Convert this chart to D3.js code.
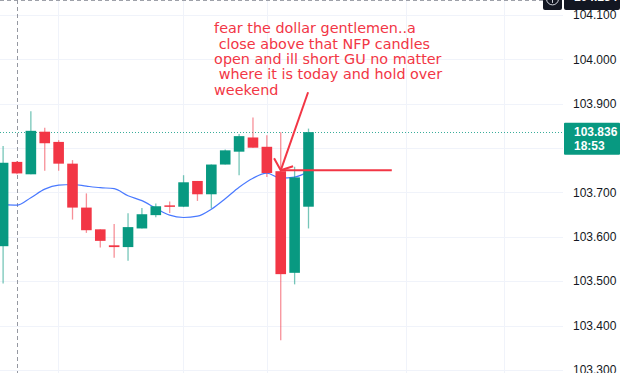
<!DOCTYPE html>
<html><head><meta charset="utf-8">
<script src="https://cdn.jsdelivr.net/npm/d3@7"></script>
<style>html,body{margin:0;padding:0;background:#fff;overflow:hidden}</style>
</head><body>
<svg id="c" width="625" height="373"></svg>
<script>
// ---- data ----
const opens  = [103.579,103.769,103.741,103.837,103.814,103.765,103.666,103.617,103.581,103.577,103.619,103.649,103.671,103.668,103.726,103.696,103.763,103.792,103.824,103.803,103.748,103.519,103.668];
const highs  = [103.805,103.771,103.883,103.846,103.818,103.773,103.698,103.617,103.629,103.653,103.665,103.675,103.680,103.739,103.726,103.763,103.797,103.832,103.869,103.829,103.836,103.758,103.844];
const lows   = [103.495,103.741,103.741,103.749,103.749,103.639,103.609,103.576,103.553,103.546,103.619,103.644,103.654,103.667,103.681,103.664,103.763,103.739,103.801,103.735,103.367,103.493,103.619];
const closes = [103.767,103.743,103.839,103.811,103.765,103.666,103.615,103.591,103.577,103.622,103.651,103.669,103.670,103.723,103.696,103.763,103.795,103.827,103.801,103.744,103.516,103.734,103.836];
const maValues = [103.6725,103.6714,103.6883,103.7075,103.7165,103.718,103.7143,103.7109,103.7086,103.6928,103.6816,103.6647,103.6489,103.6437,103.6466,103.6624,103.6861,103.712,103.7323,103.7436,103.7323,103.7346,103.747];
const yTicks = [103.3,103.4,103.5,103.6,103.7,103.8,103.9,104.0,104.1];
const timeGridIdx = [3.95, 12.96, 19.0, 29.03, 36.1];
const lastPrice = 103.836, countdown = "18:53";
const crossPrice = 104.134, crossIdx = 1;
const noteLines = ["fear the dollar gentlemen..a", "\u00a0close above that NFP candles", "open and ill short GU no matter", "\u00a0where it is today and hold over", "weekend"];

// ---- scales ----
const W = 625, H = 373, plotR = 563;
const x = d3.scaleLinear().domain([0, 22]).range([3.1, 308.5]);
const y = d3.scaleLinear().domain([103.3, 104.1]).range([370, 15]);
const bw = 10.6;
const UP = "#089981", DN = "#f23645";

const svg = d3.select("#c");
svg.append("rect").attr("width", W).attr("height", H).attr("fill", "#fff");

// grid
const g = svg.append("g");
g.selectAll(".hg").data(yTicks).join("line")
  .attr("x1", 0).attr("x2", plotR).attr("y1", d => Math.round(y(d)) + 0.5).attr("y2", d => Math.round(y(d)) + 0.5)
  .attr("stroke", "#f0f3fa").attr("stroke-width", 1);
g.selectAll(".vg").data(timeGridIdx).join("line")
  .attr("x1", d => Math.round(x(d)) + 0.5).attr("x2", d => Math.round(x(d)) + 0.5).attr("y1", 0).attr("y2", H)
  .attr("stroke", "#f0f3fa").attr("stroke-width", 1);

// crosshair
svg.append("line").attr("x1", Math.round(x(crossIdx)) + 0.5).attr("x2", Math.round(x(crossIdx)) + 0.5)
  .attr("y1", 0).attr("y2", H).attr("stroke", "#9598a1").attr("stroke-width", 1).attr("stroke-dasharray", "4 3");
svg.append("line").attr("x1", 0).attr("x2", 543).attr("y1", y(crossPrice) + 0.5).attr("y2", y(crossPrice) + 0.5)
  .attr("stroke", "#9598a1").attr("stroke-width", 1).attr("stroke-dasharray", "4 3");

// price line
svg.append("line").attr("x1", 0).attr("x2", plotR).attr("y1", Math.round(y(lastPrice)) + 0.5).attr("y2", Math.round(y(lastPrice)) + 0.5)
  .attr("stroke", UP).attr("stroke-width", 1).attr("stroke-dasharray", "1 2").attr("opacity", 0.8);

// MA line
svg.append("path").datum(maValues)
  .attr("d", d3.line().x((d, i) => x(i)).y(d => y(d)).curve(d3.curveMonotoneX))
  .attr("fill", "none").attr("stroke", "#2962ff").attr("stroke-width", 1.2).attr("opacity", 0.85);

// candles
const idx = d3.range(opens.length);
const cg = svg.append("g");
cg.selectAll(".wick").data(idx).join("line")
  .attr("x1", i => x(i)).attr("x2", i => x(i))
  .attr("y1", i => y(highs[i])).attr("y2", i => y(lows[i]))
  .attr("stroke", i => closes[i] >= opens[i] ? UP : DN).attr("stroke-width", 1.3).attr("opacity", 0.55);
cg.selectAll(".body").data(idx).join("rect")
  .attr("x", i => x(i) - bw / 2).attr("width", bw)
  .attr("y", i => y(Math.max(opens[i], closes[i])))
  .attr("height", i => Math.max(1.5, Math.abs(y(opens[i]) - y(closes[i]))))
  .attr("fill", i => closes[i] >= opens[i] ? UP : DN);

// annotation
const red = "#f23645";
const ann = svg.append("g");
const tipI = 20, tipP = 103.750;
ann.append("line").attr("x1", x(tipI)).attr("y1", y(tipP)).attr("x2", x(28)).attr("y2", y(tipP))
  .attr("stroke", red).attr("stroke-width", 2);
ann.append("line").attr("x1", x(21.97)).attr("y1", y(103.926)).attr("x2", x(tipI)).attr("y2", y(tipP))
  .attr("stroke", red).attr("stroke-width", 2);
ann.append("path")
  .attr("d", `M${x(19.52)},${y(103.777)}L${x(tipI)},${y(tipP)}L${x(20.89)},${y(103.759)}`)
  .attr("fill", "none").attr("stroke", red).attr("stroke-width", 2);

const txt = ann.append("text").attr("fill", red)
  .style("font-family", "'DejaVu Sans', Verdana, sans-serif").style("font-size", "13px");
noteLines.forEach((l, k) => {
  txt.append("tspan").attr("x", x(15.2)).attr("y", y(104.059) + k * 15.4).text(l);
});
const first = txt.select("tspan").node();
const wl = first.getComputedTextLength();
txt.style("font-size", (13 * 202 / wl).toFixed(2) + "px");

// last price label geometry
const ly = y(lastPrice);
const boxTop = ly - 9.5, boxH = 32;

// axis labels (hidden where covered by the last-price label)
const ax = svg.append("g").style("font-family", "'Liberation Sans', Arial, sans-serif").style("font-size", "12px");
ax.selectAll("text").data(yTicks.filter(d => !(y(d) > boxTop - 6 && y(d) < boxTop + boxH + 6))).join("text")
  .attr("x", 573).attr("y", d => y(d)).attr("dy", "0.35em").attr("fill", "#131722")
  .text(d => d3.format(".3f")(d));

svg.append("rect").attr("x", 564).attr("y", boxTop).attr("width", 56).attr("height", boxH).attr("rx", 1).attr("fill", UP);
const lt = svg.append("text").attr("fill", "#fff").style("font-family", "'Liberation Sans', Arial, sans-serif").style("font-size", "12px").style("font-weight", "bold");
lt.append("tspan").attr("x", 574).attr("y", ly).attr("dy", "0.35em").text(d3.format(".3f")(lastPrice));
lt.append("tspan").attr("x", 574).attr("y", ly + 14).attr("dy", "0.35em").text(countdown);

// crosshair price label (cut off at top)
const cy = y(crossPrice);
svg.append("rect").attr("x", 564).attr("y", cy - 12).attr("width", 56).attr("height", 22).attr("rx", 2).attr("fill", "#131722");
svg.append("rect").attr("x", 543).attr("y", cy - 12).attr("width", 19).attr("height", 22).attr("rx", 2).attr("fill", "#131722");
svg.append("circle").attr("cx", 552.5).attr("cy", cy - 1).attr("r", 6).attr("fill", "none").attr("stroke", "#d1d4dc").attr("stroke-width", 1);
svg.append("path").attr("d", `M552.5,${cy - 5}V${cy + 3}M548.5,${cy - 1}H556.5`).attr("stroke", "#d1d4dc").attr("stroke-width", 1);
svg.append("text").attr("x", 574).attr("y", cy).attr("dy", "0.1em").attr("fill", "#fff")
  .style("font-family", "'Liberation Sans', Arial, sans-serif").style("font-size", "12px").style("font-weight", "bold")
  .text(d3.format(".3f")(crossPrice));
</script>
</body></html>
